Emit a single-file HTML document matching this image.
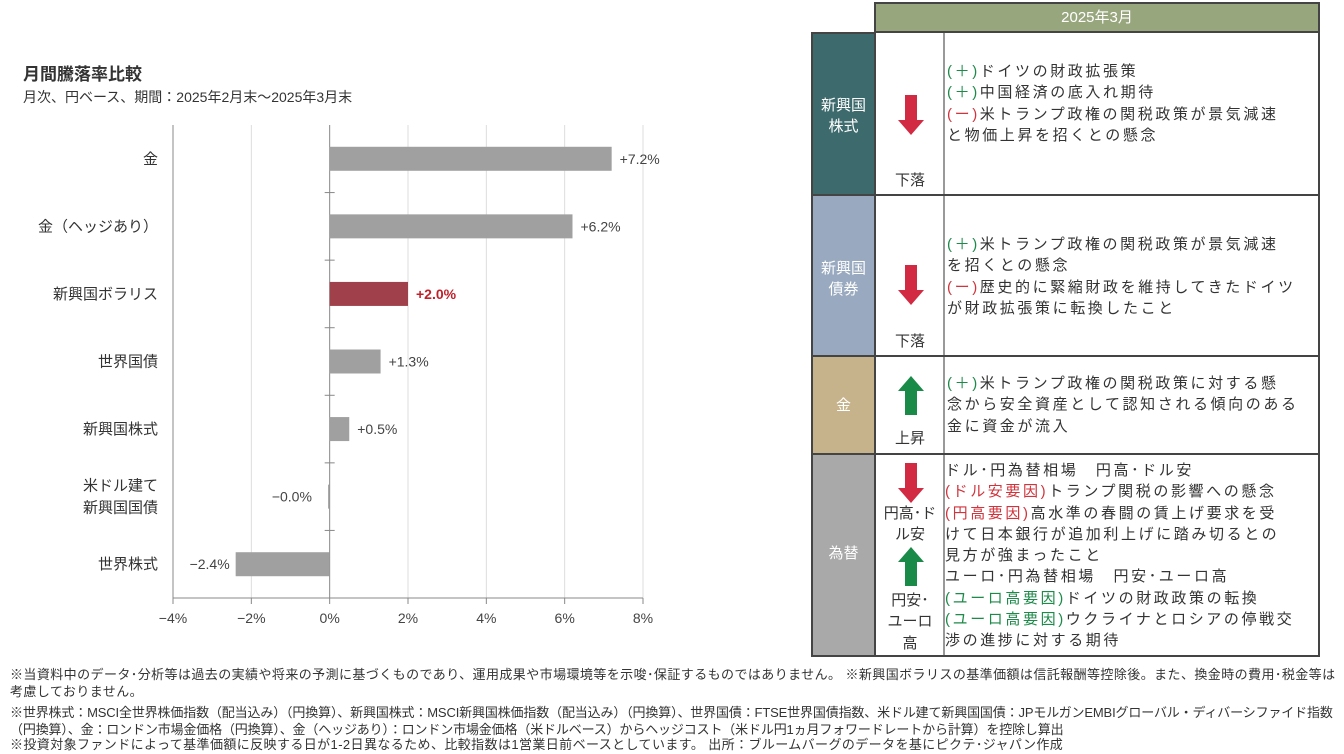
<!DOCTYPE html>
<html><head><meta charset="utf-8">
<style>
body{margin:0;width:1344px;height:754px;background:#fff;font-family:"Liberation Sans","Noto Sans CJK JP",sans-serif;color:#333;position:relative;overflow:hidden}
.abs{position:absolute}
.cell{position:absolute;box-sizing:border-box}
.txt{font-size:15px;line-height:21.3px;color:#333;white-space:nowrap;letter-spacing:2.6px}
.g{color:#1e8a4a}.r{color:#d0343c}
.note{font-size:13px;line-height:16.5px;color:#333;left:10px;white-space:nowrap;letter-spacing:0.42px}
</style></head><body>
<div class="abs" style="left:23px;top:60px;font-size:17px;font-weight:bold;color:#333">月間騰落率比較</div>
<div class="abs" style="left:23px;top:87px;font-size:14px;color:#333">月次、円ベース、期間：2025年2月末～2025年3月末</div>
<svg class="abs" style="left:0;top:0" width="800" height="650" id="chart"></svg>

<div class="cell" style="left:874px;top:2px;width:446px;height:31px;background:#98a67e;border:2px solid #444;color:#fff;font-size:15px;text-align:center;line-height:27px">2025年3月</div>
<div class="cell" style="left:874px;top:31px;width:446px;height:626px;border:2px solid #444"></div>
<div class="abs" style="left:943px;top:33px;width:2px;height:622px;background:#999"></div>

<div class="cell" style="left:811px;top:32px;width:65px;height:164px;background:#3d6a6c;border:2px solid #444;color:#fff;font-size:15px;text-align:center;padding-top:61px;line-height:21px">新興国<br>株式</div>
<div class="cell" style="left:811px;top:194px;width:65px;height:163px;background:#99a9bf;border:2px solid #444;color:#fff;font-size:15px;text-align:center;padding-top:62px;line-height:21px">新興国<br>債券</div>
<div class="cell" style="left:811px;top:355px;width:65px;height:100px;background:#c6b38b;border:2px solid #444;color:#fff;font-size:15px;text-align:center;padding-top:38px;line-height:21px">金</div>
<div class="cell" style="left:811px;top:453px;width:65px;height:204px;background:#a9a9a9;border:2px solid #444;color:#fff;font-size:15px;text-align:center;padding-top:88px;line-height:21px">為替</div>
<div class="abs" style="left:876px;top:194px;width:444px;height:2px;background:#444"></div>
<div class="abs" style="left:876px;top:355px;width:444px;height:2px;background:#444"></div>
<div class="abs" style="left:876px;top:453px;width:444px;height:2px;background:#444"></div>

<svg class="abs" style="left:876px;top:33px" width="68" height="622">
<g fill="#d22a42"><rect x="29" y="62" width="12" height="26"/><polygon points="22,87 48,87 35,102"/>
<rect x="29" y="232" width="12" height="26"/><polygon points="22,257 48,257 35,272"/>
<rect x="29" y="430" width="12" height="26"/><polygon points="22,455 48,455 35,470"/></g>
<g fill="#1a8a48"><polygon points="22,358 48,358 35,343"/><rect x="29" y="357" width="12" height="25"/>
<polygon points="22,529 48,529 35,514"/><rect x="29" y="528" width="12" height="25"/></g>
</svg>
<div class="abs txt" style="left:876px;width:68px;top:170px;text-align:center;letter-spacing:0">下落</div>
<div class="abs txt" style="left:876px;width:68px;top:331px;text-align:center;letter-spacing:0">下落</div>
<div class="abs txt" style="left:876px;width:68px;top:428px;text-align:center;letter-spacing:0">上昇</div>
<div class="abs txt" style="left:876px;width:68px;top:503px;text-align:center;letter-spacing:0">円高･ド<br>ル安</div>
<div class="abs txt" style="left:876px;width:68px;top:590px;text-align:center;letter-spacing:0">円安･<br>ユーロ<br>高</div>

<div class="abs txt" style="left:947px;top:61px"><span class="g">(＋)</span>ドイツの財政拡張策<br><span class="g">(＋)</span>中国経済の底入れ期待<br><span class="r">(ー)</span>米トランプ政権の関税政策が景気減速<br>と物価上昇を招くとの懸念</div>
<div class="abs txt" style="left:947px;top:234px"><span class="g">(＋)</span>米トランプ政権の関税政策が景気減速<br>を招くとの懸念<br><span class="r">(ー)</span>歴史的に緊縮財政を維持してきたドイツ<br>が財政拡張策に転換したこと</div>
<div class="abs txt" style="left:947px;top:373px"><span class="g">(＋)</span>米トランプ政権の関税政策に対する懸<br>念から安全資産として認知される傾向のある<br>金に資金が流入</div>
<div class="abs txt" style="left:945px;top:460px">ドル･円為替相場　円高･ドル安<br><span class="r">(ドル安要因)</span>トランプ関税の影響への懸念<br><span class="r">(円高要因)</span>高水準の春闘の賃上げ要求を受<br>けて日本銀行が追加利上げに踏み切るとの<br>見方が強まったこと<br>ユーロ･円為替相場　円安･ユーロ高<br><span class="g">(ユーロ高要因)</span>ドイツの財政政策の転換<br><span class="g">(ユーロ高要因)</span>ウクライナとロシアの停戦交<br>渉の進捗に対する期待</div>

<div class="abs note" style="top:667px">※当資料中のデータ･分析等は過去の実績や将来の予測に基づくものであり、運用成果や市場環境等を示唆･保証するものではありません。 ※新興国ボラリスの基準価額は信託報酬等控除後。また、換金時の費用･税金等は<br>考慮しておりません。</div>
<div class="abs note" style="top:705px;letter-spacing:-0.15px">※世界株式：MSCI全世界株価指数（配当込み）（円換算）、新興国株式：MSCI新興国株価指数（配当込み）（円換算）、世界国債：FTSE世界国債指数、米ドル建て新興国国債：JPモルガンEMBIグローバル・ディバーシファイド指数<br>（円換算）、金：ロンドン市場金価格（円換算）、金（ヘッジあり）：ロンドン市場金価格（米ドルベース）からヘッジコスト（米ドル円1ヵ月フォワードレートから計算）を控除し算出</div>
<div class="abs note" style="top:737px;letter-spacing:0.4px">※投資対象ファンドによって基準価額に反映する日が1-2日異なるため、比較指数は1営業日前ベースとしています。 出所：ブルームバーグのデータを基にピクテ･ジャパン作成</div>

<script>
const categories=["金","金（ヘッジあり）","新興国ボラリス","世界国債","新興国株式","米ドル建て|新興国国債","世界株式"];
const values=[7.2,6.2,2.0,1.3,0.5,-0.04,-2.4];
const valueLabels=["+7.2%","+6.2%","+2.0%","+1.3%","+0.5%","−0.0%","−2.4%"];
const highlight=[false,false,true,false,false,false,false];
const ticks=[-4,-2,0,2,4,6,8];
const tickLabels=["−4%","−2%","0%","2%","4%","6%","8%"];
const NS="http://www.w3.org/2000/svg";
const svg=document.getElementById('chart');
const L=173,R=643,T=125,B=598,xmin=-4,xmax=8;
const x=v=>L+(v-xmin)/(xmax-xmin)*(R-L);
const band=(B-T)/categories.length;
const yc=i=>T+band*(i+0.5);
function mk(t,a){const e=document.createElementNS(NS,t);for(const k in a)e.setAttribute(k,a[k]);svg.appendChild(e);return e;}
ticks.forEach((t,i)=>{
  const g=mk('line',{x1:x(t),x2:x(t),y1:T,y2:B,stroke:t===0?'#888':'#ddd','stroke-width':1});
  
  
  mk('line',{x1:x(t),x2:x(t),y1:B,y2:B+6,stroke:'#888'});
  const tl=mk('text',{x:x(t),y:623,'text-anchor':'middle','font-size':14,fill:'#444','font-family':'Liberation Sans, sans-serif'});
  tl.textContent=tickLabels[i];
  
  
});
mk('line',{x1:L,x2:L,y1:T,y2:B,stroke:'#888'});
mk('line',{x1:L,x2:R,y1:B,y2:B,stroke:'#888'});
for(let i=1;i<categories.length;i++){mk('line',{x1:x(0)-5,x2:x(0)+5,y1:T+band*i,y2:T+band*i,stroke:'#888'});}
categories.forEach((c,i)=>{
  const v=values[i];
  const x0=x(Math.min(0,v)),w=Math.max(Math.abs(x(v)-x(0)),1.5);
  const b=mk('rect',{x:x0,y:yc(i)-12,width:w,height:24,fill:highlight[i]?'#a0404a':'#a0a0a0'});
  
  
  const lab=mk('text',{x:v>=0?x(v)+8:x(Math.min(v,-0.3))-6,y:yc(i)+5,'text-anchor':v>=0?'start':'end','font-size':14,fill:highlight[i]?'#c0202a':'#444','font-weight':highlight[i]?'bold':'normal','font-family':'Liberation Sans, sans-serif'});
  lab.textContent=valueLabels[i];
  
  
  const parts=c.split('|');
  parts.forEach((p,j)=>{
    const t=mk('text',{x:158,y:yc(i)+5+(j-(parts.length-1)/2)*22,'text-anchor':'end','font-size':15,fill:'#333','font-family':'Liberation Sans, Noto Sans CJK JP, sans-serif'});
    t.textContent=p;
    
    
  });
});
</script>
</body></html>
